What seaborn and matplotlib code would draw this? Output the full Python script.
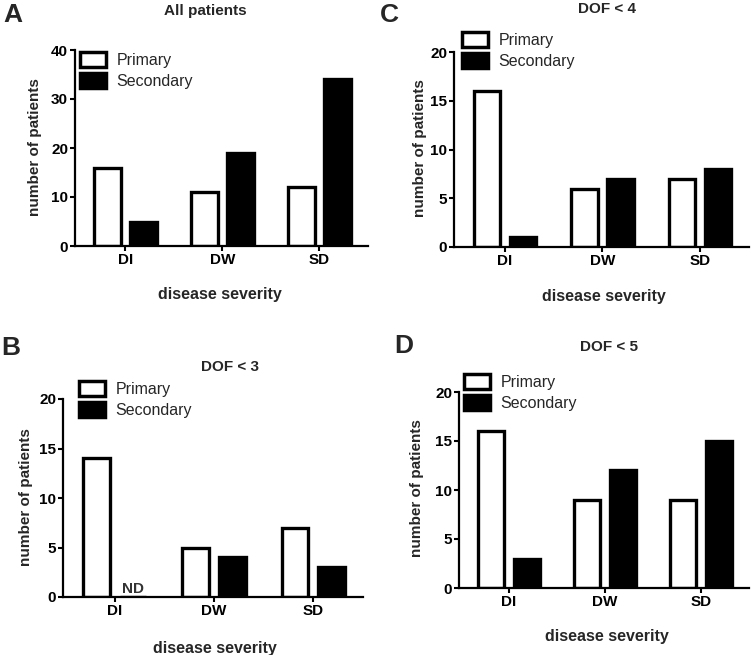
import matplotlib
matplotlib.use("Agg")
import matplotlib.pyplot as plt
import matplotlib.patches as mpatches
import seaborn as sns
import pandas as pd

categories = ["DI", "DW", "SD"]
groups = ["Primary", "Secondary"]

all_primary = [16, 11, 12]
all_secondary = [5, 19, 34]
dof4_primary = [16, 6, 7]
dof4_secondary = [1, 7, 8]
dof3_primary = [14, 5, 7]
dof3_secondary = [0, 4, 3]
dof5_primary = [16, 9, 9]
dof5_secondary = [3, 12, 15]

sns.set_theme(style="ticks")
plt.rcParams["font.family"] = ["Liberation Sans", "DejaVu Sans"]

W, H = 754, 655
fig = plt.figure(figsize=(W / 100, H / 100), dpi=100)


def px_axes(left, top, right, bottom):
    return fig.add_axes([left / W, 1 - bottom / H, (right - left) / W, (bottom - top) / H])


panels = [
    ("A", "All patients", all_primary, all_secondary, 40, 10,
     (75, 50, 368, 246), (3, 22), (205, 11), (35, 147), (220, 295), (80, 52)),
    ("C", "DOF < 4", dof4_primary, dof4_secondary, 20, 5,
     (454, 52, 749, 247), (380, 22), (607, 9), (420, 148), (604, 297), (462, 32)),
    ("B", "DOF < 3", dof3_primary, dof3_secondary, 20, 5,
     (63, 399, 363, 597), (1, 355), (230, 367), (26, 497), (215, 648), (79, 381)),
    ("D", "DOF < 5", dof5_primary, dof5_secondary, 20, 5,
     (459, 392, 749, 588), (394, 353), (609, 347), (417, 488), (607, 637), (464, 374)),
]

for (letter, title, prim, sec, ymax, step, axpx, lpos, tpos, ylpos, xlpos, legpos) in panels:
    ax = px_axes(*axpx)
    df = pd.DataFrame({
        "severity": categories * 2,
        "group": [groups[0]] * 3 + [groups[1]] * 3,
        "count": list(prim) + list(sec),
    })
    sns.barplot(data=df, x="severity", y="count", hue="group", order=categories,
                hue_order=groups, palette={"Primary": "white", "Secondary": "black"},
                edgecolor="black", linewidth=2.4, width=0.74, gap=0.27,
                legend=False, ax=ax)
    ax.set_xlim(-0.52, 2.5)
    ax.set_ylim(0, ymax)
    ax.set_yticks(range(0, ymax + 1, step))
    ax.set_xlabel("")
    ax.set_ylabel("")
    sns.despine(ax=ax)
    for s in ["left", "bottom"]:
        ax.spines[s].set_linewidth(1.6)
        ax.spines[s].set_color("black")
    ax.tick_params(axis="both", direction="out", length=3.5, width=1.5, colors="black",
                   labelsize=11, pad=1.5)
    for lab in ax.get_xticklabels() + ax.get_yticklabels():
        lab.set_fontweight("bold")

    if letter == "B":
        ax.text(0.185, 0.15, "ND", ha="center", va="bottom", fontsize=11,
                fontweight="bold", color="#333333")

    fig.text(lpos[0] / W, 1 - lpos[1] / H, letter, fontsize=19, fontweight="bold",
             ha="left", va="baseline")
    fig.text(tpos[0] / W, 1 - tpos[1] / H, title, fontsize=11, fontweight="bold",
             ha="center", va="center")
    fig.text(ylpos[0] / W, 1 - ylpos[1] / H, "number of patients", fontsize=11,
             fontweight="bold", rotation=90, ha="center", va="center")
    fig.text(xlpos[0] / W, 1 - xlpos[1] / H, "disease severity", fontsize=11.5,
             fontweight="bold", ha="center", va="center")

    handles = [mpatches.Patch(facecolor="white", edgecolor="black", linewidth=2.5, label="Primary"),
               mpatches.Patch(facecolor="black", edgecolor="black", linewidth=2.5, label="Secondary")]
    ax.legend(handles=handles, loc="upper left",
              bbox_to_anchor=(legpos[0] / W, 1 - legpos[1] / H),
              bbox_transform=fig.transFigure, frameon=False, fontsize=11.5,
              handlelength=1.65, handleheight=1.05, handletextpad=0.65,
              labelspacing=0.35, borderpad=0, borderaxespad=0)

fig.savefig("out.png", dpi=100)
